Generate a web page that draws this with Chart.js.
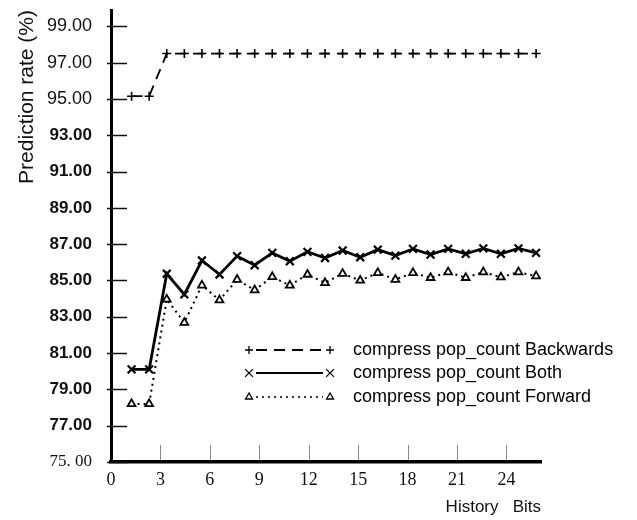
<!DOCTYPE html>
<html>
<head>
<meta charset="utf-8">
<script src="https://cdn.jsdelivr.net/npm/chart.js@4"></script>
<style>
  html, body { margin: 0; padding: 0; background: #fff; }
  #wrap { width: 637px; height: 520px; }
</style>
</head>
<body>
<div id="wrap"><canvas id="chart" width="637" height="520"></canvas></div>
<script>
// history bits on the x axis
const historyBits = [1, 2, 3, 4, 5, 6, 7, 8, 9, 10, 11, 12, 13, 14, 15, 16, 17, 18, 19, 20, 21, 22, 23, 24];

// prediction rate (%) per series
const backwards = [95.15, 95.15, 97.5, 97.5, 97.5, 97.5, 97.5, 97.5, 97.5, 97.5, 97.5, 97.5,
                   97.5, 97.5, 97.5, 97.5, 97.5, 97.5, 97.5, 97.5, 97.5, 97.5, 97.5, 97.5];
const both = [80.1, 80.1, 85.37, 84.23, 86.1, 85.33, 86.34, 85.84, 86.52, 86.06, 86.58, 86.24,
              86.65, 86.28, 86.7, 86.37, 86.74, 86.43, 86.74, 86.47, 86.77, 86.47, 86.77, 86.52];
const forward = [78.2, 78.2, 83.96, 82.68, 84.73, 83.92, 85.05, 84.47, 85.2, 84.73, 85.33, 84.87,
                 85.38, 85.0, 85.42, 85.05, 85.42, 85.15, 85.46, 85.15, 85.46, 85.18, 85.46, 85.24];

const seriesNames = ['compress pop_count Backwards', 'compress pop_count Both', 'compress pop_count Forward'];

// axis ticks
const yTicks = [75, 77, 79, 81, 83, 85, 87, 89, 91, 93, 95, 97, 99];
const yTickLabels = ['75. 00', '77.00', '79.00', '81.00', '83.00', '85.00', '87.00', '89.00',
                     '91.00', '93.00', '95.00', '97.00', '99.00'];
const xTicks = [0, 3, 6, 9, 12, 15, 18, 21, 24];

const toPoints = vals => historyBits.map((b, i) => ({ x: b, y: vals[i] }));

// tick marks drawn inside the plot, like the original
const innerTicks = {
  id: 'innerTicks',
  beforeDatasetsDraw(chart) {
    const { ctx, chartArea, scales } = chart;
    ctx.save();
    ctx.strokeStyle = '#111';
    ctx.lineWidth = 1.5;
    scales.y.ticks.forEach(t => {
      const py = Math.round(scales.y.getPixelForValue(t.value)) + 0.5;
      ctx.beginPath();
      ctx.moveTo(chartArea.left - 4, py);
      ctx.lineTo(chartArea.left + 16, py);
      ctx.stroke();
    });
    ctx.strokeStyle = '#888';
    ctx.lineWidth = 1;
    scales.x.ticks.forEach(t => {
      if (t.value === 0) return;
      const px = Math.round(scales.x.getPixelForValue(t.value)) + 0.5;
      ctx.beginPath();
      ctx.moveTo(px, chartArea.bottom - 17);
      ctx.lineTo(px, chartArea.bottom - 2);
      ctx.stroke();
    });
    ctx.restore();
  }
};

// legend with a marker at both ends of the line sample
const sampleLegend = {
  id: 'sampleLegend',
  afterDraw(chart) {
    const { ctx } = chart;
    const rows = [350, 373, 397];
    const x1 = 249, x2 = 330, tx = 353;
    ctx.save();
    chart.data.datasets.forEach((ds, i) => {
      const y = rows[i];
      ctx.strokeStyle = '#000';
      ctx.fillStyle = '#fff';
      ctx.lineWidth = ds.legendLineWidth;
      ctx.setLineDash(ds.borderDash || []);
      ctx.beginPath();
      ctx.moveTo(x1 + 7, y);
      ctx.lineTo(x2 - 7, y);
      ctx.stroke();
      ctx.setLineDash([]);
      const opts = { pointStyle: ds.pointStyle, radius: ds.legendRadius, borderWidth: 1.3, rotation: 0 };
      ctx.lineWidth = 1.3;
      Chart.helpers.drawPoint(ctx, opts, x1, y);
      Chart.helpers.drawPoint(ctx, opts, x2, y);
      ctx.fillStyle = '#000';
      ctx.font = '18px "Liberation Sans", Arial, sans-serif';
      ctx.textBaseline = 'middle';
      ctx.textAlign = 'left';
      ctx.fillText(seriesNames[i], tx, y);
    });
    ctx.restore();
  }
};

new Chart(document.getElementById('chart'), {
  type: 'line',
  data: {
    datasets: [{
      label: seriesNames[0],
      data: toPoints(backwards),
      xAxisID: 'xd',
      borderColor: '#000',
      borderWidth: 1.8,
      legendLineWidth: 2,
      legendRadius: 4,
      borderDash: [11, 7],
      pointStyle: 'cross',
      pointRadius: 4.5,
      pointBorderWidth: 1.6,
      pointBorderColor: '#000',
      tension: 0
    }, {
      label: seriesNames[1],
      data: toPoints(both),
      xAxisID: 'xd',
      borderColor: '#000',
      borderWidth: 2.8,
      legendLineWidth: 2,
      legendRadius: 5.5,
      pointStyle: 'crossRot',
      pointRadius: 5.5,
      pointBorderWidth: 2.2,
      pointBorderColor: '#000',
      tension: 0
    }, {
      label: seriesNames[2],
      data: toPoints(forward),
      xAxisID: 'xd',
      borderColor: '#000',
      borderWidth: 2,
      legendLineWidth: 1.3,
      legendRadius: 4,
      borderDash: [2, 4],
      pointStyle: 'triangle',
      pointRadius: 4.5,
      pointBorderWidth: 1.8,
      pointBorderColor: '#000',
      pointBackgroundColor: '#fff',
      tension: 0
    }]
  },
  options: {
    responsive: false,
    animation: false,
    events: [],
    layout: { padding: { left: 0, right: 96, top: 10, bottom: 0 } },
    plugins: { legend: { display: false }, tooltip: { enabled: false } },
    scales: {
      xd: {
        type: 'linear',
        display: false,
        min: -0.17,
        max: 24.28
      },
      x: {
        type: 'linear',
        position: 'bottom',
        min: 0,
        max: 26.1,
        afterBuildTicks: s => { s.ticks = xTicks.map(v => ({ value: v })); },
        afterFit: s => { s.height = 58; s.paddingLeft = 0; s.paddingRight = 0; },
        grid: { display: false, drawTicks: false },
        border: { display: true, color: '#000', width: 3.5 },
        ticks: {
          color: '#111',
          padding: 7,
          maxRotation: 0,
          autoSkip: false,
          font: { family: '"Liberation Serif", "Times New Roman", serif', size: 18 },
          callback: v => String(v)
        },
        title: {
          display: true,
          text: 'History   Bits',
          align: 'end',
          color: '#111',
          padding: { top: 0, bottom: 2 },
          font: { family: '"Liberation Sans", Arial, sans-serif', size: 17 }
        }
      },
      y: {
        type: 'linear',
        min: 75,
        max: 99.9,
        afterBuildTicks: s => { s.ticks = yTicks.map(v => ({ value: v })); },
        afterFit: s => { s.width = 111; s.paddingTop = 0; s.paddingBottom = 0; },
        grid: { display: false, drawTicks: false },
        border: { display: true, color: '#000', width: 3 },
        ticks: {
          color: '#111',
          padding: 19,
          autoSkip: false,
          font: ctx => {
            const v = ctx.tick ? ctx.tick.value : 0;
            if (v === 75) return { family: '"Liberation Serif", "Times New Roman", serif', size: 17 };
            if (v >= 95) return { family: '"Liberation Sans", Arial, sans-serif', size: 18 };
            return { family: '"Liberation Sans", Arial, sans-serif', size: 17, weight: 'bold' };
          },
          callback: v => yTickLabels[yTicks.indexOf(v)]
        },
        title: {
          display: true,
          text: 'Prediction rate (%)',
          align: 'end',
          color: '#111',
          padding: { top: 15, bottom: 0 },
          font: { family: '"Liberation Sans", Arial, sans-serif', size: 21 }
        }
      }
    }
  },
  plugins: [innerTicks, sampleLegend]
});
</script>
</body>
</html>
